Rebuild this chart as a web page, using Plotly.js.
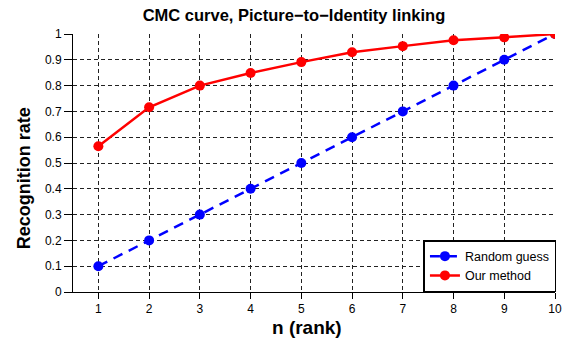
<!DOCTYPE html>
<html><head><meta charset="utf-8">
<script src="https://cdn.plot.ly/plotly-3.0.1.min.js"></script>
<style>html,body{margin:0;padding:0;background:#fff}</style>
</head><body><div id="chart" style="width:573px;height:347px"></div>
<script>
const ranks = [1,2,3,4,5,6,7,8,9,10];
const randomGuess = [0.1,0.2,0.3,0.4,0.5,0.6,0.7,0.8,0.9,1.0];
const ourMethod = [0.565,0.716,0.800,0.849,0.891,0.929,0.953,0.976,0.987,1.0];
const yTicks = [0,0.1,0.2,0.3,0.4,0.5,0.6,0.7,0.8,0.9,1];
const yTickText = ['0','0.1','0.2','0.3','0.4','0.5','0.6','0.7','0.8','0.9','1'];

const traces = [
  {x: ranks, y: randomGuess, name: 'Random guess', mode: 'lines+markers', type: 'scatter',
   line: {color: '#0000ff', width: 2.5, dash: '10px,7px'}, marker: {color: '#0000ff', size: 10}},
  {x: ranks, y: ourMethod, name: 'Our method', mode: 'lines+markers', type: 'scatter',
   line: {color: '#ff0000', width: 2.5}, marker: {color: '#ff0000', size: 10}}
];
const font = {family: 'Liberation Sans, Arial, sans-serif', color: '#000'};
const layout = {
  width: 573, height: 347,
  margin: {l: 73, r: 18, t: 34, b: 55},
  paper_bgcolor: '#fff', plot_bgcolor: '#fff',
  font: Object.assign({size: 12}, font),
  title: {text: '<b>CMC curve, Picture\u2212to\u2212Identity linking</b>', font: Object.assign({size: 16.5}, font), x: 0.513, xanchor: 'center', y: 0.955, yanchor: 'middle'},
  xaxis: {range: [0.5, 10], tickvals: ranks, ticks: 'outside', ticklen: 6, tickcolor: '#000',
    showline: true, linecolor: '#000', linewidth: 1, zeroline: false,
    showgrid: true, gridcolor: '#222', griddash: '4px,3px', gridwidth: 1,
    tickfont: Object.assign({size: 12}, font)},
  yaxis: {range: [0, 1], tickvals: yTicks, ticktext: yTickText, ticks: 'outside', ticklen: 8, tickcolor: '#000',
    showline: true, linecolor: '#000', linewidth: 1, zeroline: false,
    showgrid: true, gridcolor: '#222', griddash: '4px,3px', gridwidth: 1,
    tickfont: Object.assign({size: 12}, font)},
  annotations: [
    {text: '<b>n (rank)</b>', xref: 'paper', yref: 'paper', x: 0.486, y: -0.136, xanchor: 'center', yanchor: 'middle', showarrow: false, font: Object.assign({size: 19}, font)},
    {text: '<b>Recognition rate</b>', xref: 'paper', yref: 'paper', x: -0.10, y: 0.44, xanchor: 'center', yanchor: 'middle', textangle: -90, showarrow: false, font: Object.assign({size: 18}, font)}
  ],
  showlegend: true,
  legend: {x: 1.003, y: 0.0, xanchor: 'right', yanchor: 'bottom', bgcolor: '#fff',
    bordercolor: '#000', borderwidth: 1.5, font: Object.assign({size: 12.5}, font),
    tracegroupgap: 0, itemwidth: 30}
};
Plotly.newPlot('chart', traces, layout, {displayModeBar: false, staticPlot: true});
</script></body></html>
